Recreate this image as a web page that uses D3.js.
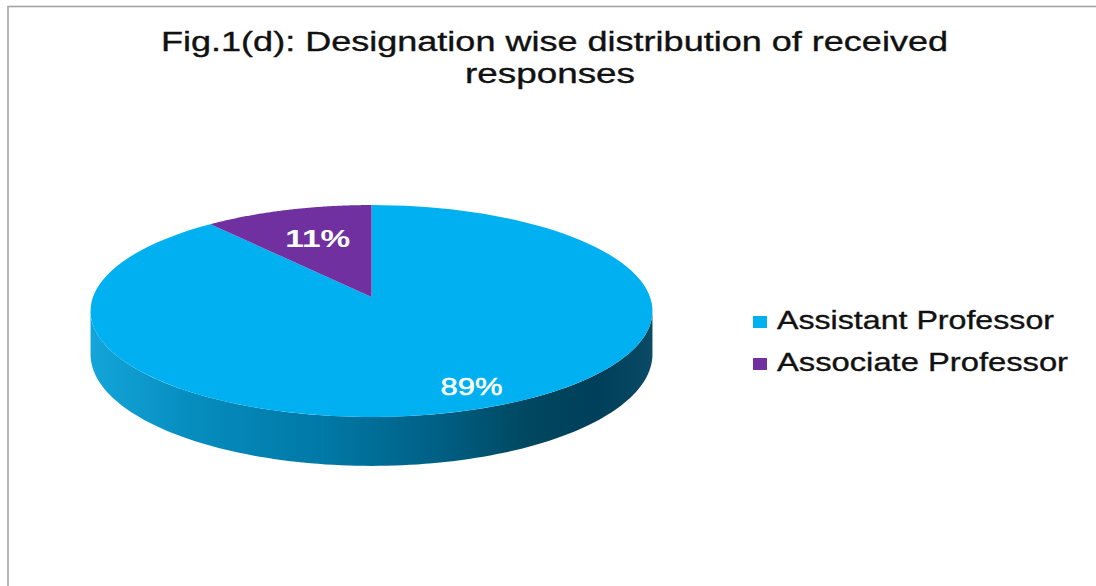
<!DOCTYPE html>
<html>
<head>
<meta charset="utf-8">
<script src="https://cdn.jsdelivr.net/npm/d3@7/dist/d3.min.js"></script>
<style>
  html, body { margin: 0; padding: 0; background: #fff; }
  svg { display: block; }
  text { font-family: "Liberation Sans", Arial, sans-serif; }
</style>
</head>
<body>
<svg id="chart" width="1096" height="586"></svg>
<script>
// Designation wise distribution of received responses
const categories = ["Assistant Professor", "Associate Professor"];
const values = [89, 11];
const valueLabels = ["89%", "11%"];
const colors = ["#00b0f0", "#7030a0"];
const titleLines = ["Fig.1(d): Designation wise distribution of received", "responses"];

const svg = d3.select("#chart");

// frame
svg.append("rect")
  .attr("x", 8).attr("y", 6.5)
  .attr("width", 1200).attr("height", 700)
  .attr("fill", "#fff")
  .attr("stroke", "#a3a3a3")
  .attr("stroke-width", 1.6);

// title
const titleWidths = [787, 170];
svg.append("g").selectAll("text")
  .data(titleLines)
  .join("text")
  .attr("x", (d, i) => i === 0 ? 161 : 465)
  .attr("y", (d, i) => 51 + i * 32)
  .attr("font-size", 27)
  .attr("fill", "#111")
  .attr("stroke", "#111")
  .attr("stroke-width", 0.35)
  .attr("textLength", (d, i) => titleWidths[i])
  .attr("lengthAdjust", "spacingAndGlyphs")
  .text(d => d);

// perspective projection of a tilted disc onto the page
const cx = 371.5, cy = 297;   // projected disc centre
const A = 278.5, B = 104.1;   // semi-axes before perspective
const k = 0.132;              // perspective strength
const depth = 42.5;           // thickness of the disc
function project(angle, r = 1, drop = 0) {
  const u = Math.sin(angle) * r;
  const v = -Math.cos(angle) * r;
  const s = 1 / (1 - k * v);
  return [cx + A * u * s, cy + B * v * s + drop * s];
}
function rimPoints(a0, a1, drop = 0, n = 120) {
  const pts = [];
  for (let i = 0; i <= n; i++) {
    const a = a0 + (a1 - a0) * i / n;
    pts.push(project(a, 1, drop));
  }
  return pts;
}

const pie = d3.pie().sort(null).value(d => d.value);
const arcs = pie(categories.map((c, i) => ({ name: c, value: values[i], color: colors[i], label: valueLabels[i] })));

// gradient for the outer wall
const defs = svg.append("defs");
const grad = defs.append("linearGradient")
  .attr("id", "wall")
  .attr("gradientUnits", "userSpaceOnUse")
  .attr("x1", cx - A * 1.02).attr("x2", cx + A * 1.02)
  .attr("y1", 0).attr("y2", 0);
[[0, "#14a6da"], [0.18, "#068dbf"], [0.42, "#0078a5"], [0.62, "#005f84"],
 [0.78, "#00475f"], [0.9, "#003f59"], [1, "#0b4b66"]]
  .forEach(([o, c]) => grad.append("stop").attr("offset", o).attr("stop-color", c));

// visible wall spans from right silhouette, through the front, to left silhouette
const aRight = Math.acos(-k);
const aLeft = 2 * Math.PI - aRight;
const line = d3.line();
const wallTop = rimPoints(aRight, aLeft, 0);
const wallBottom = rimPoints(aLeft, aRight, depth);
svg.append("path")
  .attr("d", line(wallTop.concat(wallBottom)) + "Z")
  .attr("fill", "url(#wall)");

// top faces of the slices
svg.append("g").selectAll("path")
  .data(arcs)
  .join("path")
  .attr("d", d => line([[cx, cy]].concat(rimPoints(d.startAngle, d.endAngle, 0))) + "Z")
  .attr("fill", d => d.data.color);

// value labels
const labelRadius = [0.82, 0.65];
const labelNudge = [14, 3];
const labelWidths = [62, 65];
svg.append("g").selectAll("text")
  .data(arcs)
  .join("text")
  .attr("x", (d, i) => project((d.startAngle + d.endAngle) / 2, labelRadius[i])[0] + labelNudge[i])
  .attr("y", (d, i) => project((d.startAngle + d.endAngle) / 2, labelRadius[i])[1])
  .attr("dy", "0.36em")
  .attr("text-anchor", "middle")
  .attr("font-size", 24)
  .attr("font-weight", (d, i) => i === 1 ? "bold" : "normal")
  .attr("fill", "#fff")
  .attr("stroke", "#fff")
  .attr("stroke-width", (d, i) => i === 1 ? 0 : 0.5)
  .attr("textLength", (d, i) => labelWidths[i])
  .attr("lengthAdjust", "spacingAndGlyphs")
  .text(d => d.data.label);

// legend
const legendY = d3.scalePoint().domain(categories).range([322, 364]);
const legendWidths = [277, 291];
const legend = svg.append("g").selectAll("g")
  .data(categories)
  .join("g")
  .attr("transform", d => `translate(753, ${legendY(d)})`);
legend.append("rect")
  .attr("x", 0).attr("y", -6)
  .attr("width", 14).attr("height", 12)
  .attr("fill", (d, i) => colors[i]);
legend.append("text")
  .attr("x", 24).attr("y", 7)
  .attr("font-size", 25)
  .attr("fill", "#111")
  .attr("stroke", "#111")
  .attr("stroke-width", 0.35)
  .attr("textLength", (d, i) => legendWidths[i])
  .attr("lengthAdjust", "spacingAndGlyphs")
  .text(d => d);
</script>
</body>
</html>
